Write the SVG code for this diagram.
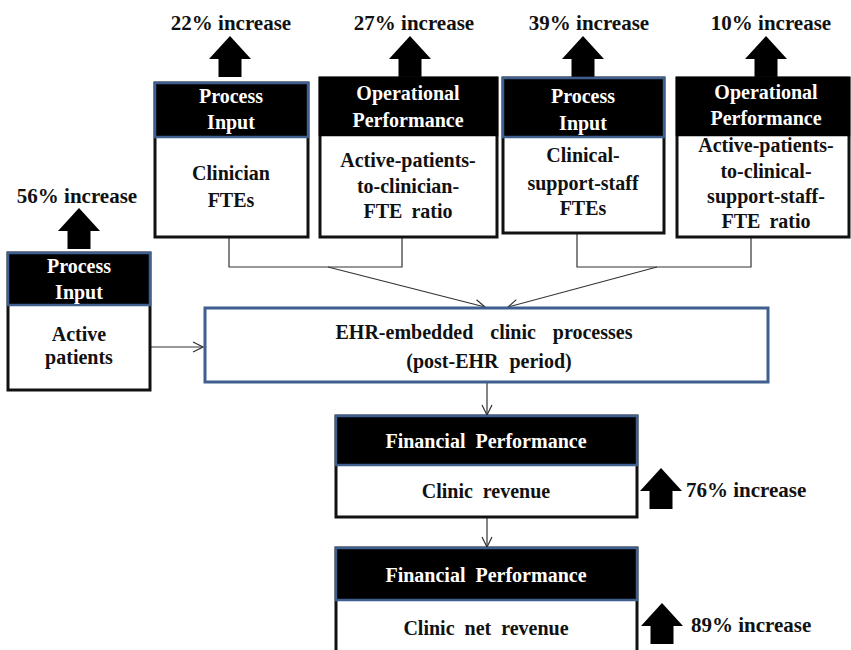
<svg xmlns="http://www.w3.org/2000/svg" width="851" height="650" viewBox="0 0 851 650" font-family="'Liberation Serif', 'Times New Roman', 'DejaVu Serif', serif">
<defs>
<style>
text{font-family:'Liberation Serif','Times New Roman','DejaVu Serif',serif;font-weight:700;font-size:20px;fill:#111;text-anchor:middle}
.h{fill:#fff}
.lab{font-size:21px}
.l{text-anchor:start}
.body{fill:#fff;stroke:#111;stroke-width:3}
.hb{fill:#000;stroke:#3f5f8f;stroke-width:2.5}
.hk{fill:#000;stroke:#000;stroke-width:2.5}
.c{fill:none;stroke:#333;stroke-width:1.2}
.up{fill:#000}
</style>
<marker id="ah" viewBox="0 0 12 12" refX="11" refY="6" markerWidth="12" markerHeight="12" markerUnits="userSpaceOnUse" orient="auto">
<path d="M1,1 L11,6 L1,11" fill="none" stroke="#333" stroke-width="1.2"/>
</marker>
<path id="uparrow" d="M0,0 L21,23 L11.5,23 L11.5,41 L-11.5,41 L-11.5,23 L-21,23 Z"/>
</defs>
<rect width="851" height="650" fill="#fff"/>

<g id="connectors">
<polyline class="c" points="229,238 229,267 402,267 402,238"/>
<polyline class="c" points="577,234 577,267 751,267 751,238"/>
<line class="c" x1="328" y1="267" x2="485" y2="307" marker-end="url(#ah)"/>
<line class="c" x1="657" y1="267" x2="508" y2="307" marker-end="url(#ah)"/>
<line class="c" x1="150" y1="347" x2="203" y2="347" marker-end="url(#ah)"/>
<line class="c" x1="487" y1="383" x2="487" y2="415" marker-end="url(#ah)"/>
<line class="c" x1="487" y1="518" x2="487" y2="547" marker-end="url(#ah)"/>
</g>

<g id="up-arrows" class="up">
<use href="#uparrow" x="230" y="36"/>
<use href="#uparrow" x="410" y="36"/>
<use href="#uparrow" x="583" y="36"/>
<use href="#uparrow" x="766" y="36"/>
<use href="#uparrow" x="79" y="208"/>
<use href="#uparrow" x="661" y="468"/>
<use href="#uparrow" x="662" y="603"/>
</g>

<g id="labels">
<text class="lab" x="231" y="30">22% increase</text>
<text class="lab" x="414" y="30">27% increase</text>
<text class="lab" x="589" y="30">39% increase</text>
<text class="lab" x="771" y="30">10% increase</text>
<text class="lab" x="77" y="203">56% increase</text>
<text class="lab l" x="686" y="497">76% increase</text>
<text class="lab l" x="691" y="632">89% increase</text>
</g>

<g id="clinician-ftes">
<rect class="body" x="155" y="83" width="153" height="154"/>
<rect class="hb" x="155" y="83" width="153" height="54"/>
<text class="h" x="231" y="103">Process</text>
<text class="h" x="231" y="129">Input</text>
<text x="231" y="180">Clinician</text>
<text x="231" y="207">FTEs</text>
</g>

<g id="clinician-ratio">
<rect class="body" x="320" y="78" width="177" height="159"/>
<rect class="hk" x="320" y="78" width="177" height="57"/>
<text class="h" x="408" y="100">Operational</text>
<text class="h" x="408" y="127">Performance</text>
<text x="408" y="167">Active-patients-</text>
<text x="408" y="193">to-clinician-</text>
<text x="408" y="218" word-spacing="4">FTE ratio</text>
</g>

<g id="support-staff-ftes">
<rect class="body" x="503" y="78" width="161" height="155"/>
<rect class="hb" x="503" y="78" width="161" height="59"/>
<text class="h" x="583" y="103">Process</text>
<text class="h" x="583" y="130">Input</text>
<text x="583" y="162">Clinical-</text>
<text x="583" y="190">support-staff</text>
<text x="583" y="215">FTEs</text>
</g>

<g id="support-staff-ratio">
<rect class="body" x="677" y="78" width="172" height="159"/>
<rect class="hk" x="677" y="78" width="172" height="57"/>
<text class="h" x="766" y="99">Operational</text>
<text class="h" x="766" y="125">Performance</text>
<text x="766" y="152">Active-patients-</text>
<text x="766" y="178">to-clinical-</text>
<text x="766" y="203">support-staff-</text>
<text x="766" y="228" word-spacing="4">FTE ratio</text>
</g>

<g id="active-patients">
<rect class="body" x="8" y="253" width="142" height="137"/>
<rect class="hb" x="8" y="253" width="142" height="52"/>
<text class="h" x="79" y="273">Process</text>
<text class="h" x="79" y="299">Input</text>
<text x="79" y="341">Active</text>
<text x="79" y="364">patients</text>
</g>

<g id="ehr-processes">
<rect x="205" y="308" width="563" height="74" fill="#fff" stroke="#3f5f8f" stroke-width="3"/>
<text x="484" y="339" word-spacing="12">EHR-embedded clinic processes</text>
<text x="489" y="368" word-spacing="6">(post-EHR period)</text>
</g>

<g id="clinic-revenue">
<rect class="body" x="336" y="416" width="301" height="101"/>
<rect class="hb" x="336" y="416" width="301" height="49"/>
<text class="h" x="486" y="448" word-spacing="5">Financial Performance</text>
<text x="486" y="498" word-spacing="5">Clinic revenue</text>
</g>

<g id="clinic-net-revenue">
<rect class="body" x="336" y="548" width="301" height="110"/>
<rect class="hb" x="336" y="548" width="301" height="52"/>
<text class="h" x="486" y="582" word-spacing="5">Financial Performance</text>
<text x="486" y="635" word-spacing="5">Clinic net revenue</text>
</g>
</svg>
